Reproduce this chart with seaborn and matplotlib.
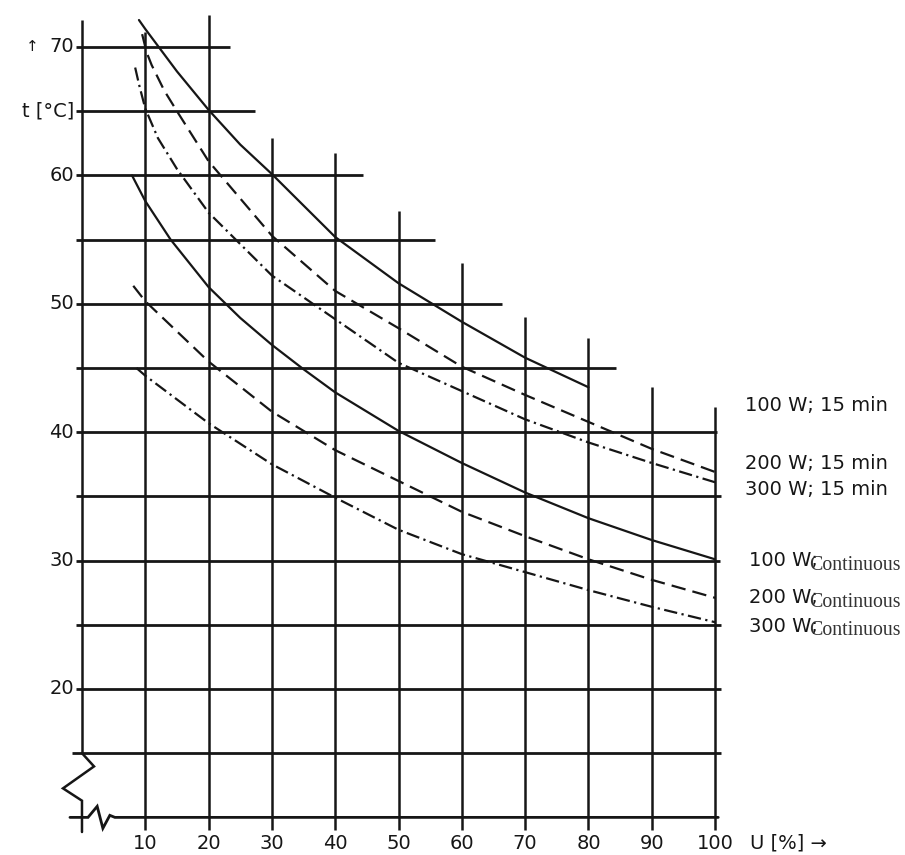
import matplotlib
matplotlib.use("Agg")
import matplotlib.pyplot as plt
import numpy as np
import pandas as pd
import seaborn as sns

# ---------------- data ----------------
u_100w_15 = [9.0, 10, 15, 20, 25, 30, 40, 50, 60, 70, 80]
t_100w_15 = [72.1, 71.4, 68.1, 65.1, 62.4, 60.1, 55.2, 51.6, 48.6, 45.8, 43.5]

u_200w_15 = [9.5, 10.2, 11, 13, 15, 20, 30, 40, 50, 60, 70, 80, 90, 100]
t_200w_15 = [71.0, 69.6, 68.6, 66.6, 65.0, 61.1, 55.3, 51.0, 48.1, 45.1, 42.9, 40.8, 38.7, 36.9]

u_300w_15 = [8.4, 9, 10, 12, 15, 20, 30, 40, 50, 60, 70, 80, 90, 100]
t_300w_15 = [68.4, 67.1, 65.2, 62.9, 60.5, 57.1, 52.2, 48.8, 45.4, 43.2, 41.0, 39.2, 37.6, 36.1]

u_100w_c = [7.9, 10, 14, 20, 25, 30, 35, 40, 50, 60, 70, 80, 90, 100]
t_100w_c = [60.0, 58.0, 55.0, 51.3, 48.9, 46.8, 44.9, 43.1, 40.1, 37.6, 35.3, 33.3, 31.6, 30.1]

u_200w_c = [8.1, 10, 20, 30, 40, 50, 60, 70, 80, 90, 100]
t_200w_c = [51.4, 50.2, 45.5, 41.6, 38.6, 36.2, 33.8, 31.9, 30.1, 28.5, 27.1]

u_300w_c = [8.6, 10, 20, 30, 40, 50, 60, 70, 80, 90, 100]
t_300w_c = [45.0, 44.4, 40.7, 37.5, 34.9, 32.4, 30.5, 29.1, 27.7, 26.4, 25.2]

series_names = ["100 W; 15 min", "200 W; 15 min", "300 W; 15 min",
                "100 W; Continuous", "200 W; Continuous", "300 W; Continuous"]
label_main = ["100 W; 15 min", "200 W; 15 min", "300 W; 15 min", "100 W;", "200 W;", "300 W;"]
label_y = [42.1, 37.6, 35.5, 30.0, 27.1, 24.9]

# grid (staircase) lines
h_levels = [70, 65, 60, 55, 50, 45, 40, 35, 30, 25, 20, 15]
h_start = [-0.95, -0.95, -0.95, -0.95, -0.95, -0.95, -0.95, -0.95, -0.95, -0.95, -0.95, -1.6]
h_end = [23.4, 27.3, 44.4, 55.8, 66.3, 84.4, 100.3, 101.0, 100.8, 101.0, 101.0, 101.0]
v_pos = [0, 10, 20, 30, 40, 50, 60, 70, 80, 90, 100]
v_top = [72.1, 71.2, 72.5, 62.9, 61.75, 57.2, 53.2, 49.0, 47.35, 43.5, 42.0]
v_bottom = [15.0, 9.0, 9.0, 9.0, 9.0, 9.0, 9.0, 9.0, 9.0, 9.0, 9.0]

# axis break decorations
break_left_x = [0.0, 1.9, -3.0, 0.0, 0.0]
break_left_y = [15.0, 13.97, 12.26, 11.3, 8.86]
bottom_line_x = [-1.9, 0.95, 2.4, 3.3, 4.4, 5.2, 100.5]
bottom_line_y = [10.0, 10.0, 10.86, 9.15, 10.16, 10.0, 10.0]

y_ticks = [70, 60, 50, 40, 30, 20]
x_ticks = [10, 20, 30, 40, 50, 60, 70, 80, 90, 100]

# ---------------- plotting ----------------
sns.set_theme(style="white")
plt.rcParams["font.family"] = ["DejaVu Sans"]

fig = plt.figure(figsize=(9.05, 8.55), dpi=100)
fig.patch.set_facecolor("white")
ax = fig.add_axes([0, 0, 1, 1])
ax.set_xlim(-12.95, 130.0)
ax.set_ylim(7.07, 73.66)
ax.set_axis_off()

ink = "#161616"

ax.hlines(h_levels, h_start, h_end, colors=ink, linewidth=2.0)
ax.vlines(v_pos, v_bottom, v_top, colors=ink, linewidth=1.8)
ax.plot(break_left_x, break_left_y, color=ink, linewidth=1.8, solid_joinstyle="miter")
ax.plot(bottom_line_x, bottom_line_y, color=ink, linewidth=2.0, solid_joinstyle="miter")

frames = []
for name, u, t in zip(series_names,
                      [u_100w_15, u_200w_15, u_300w_15, u_100w_c, u_200w_c, u_300w_c],
                      [t_100w_15, t_200w_15, t_300w_15, t_100w_c, t_200w_c, t_300w_c]):
    frames.append(pd.DataFrame({"U": u, "t": t, "series": name}))
df = pd.concat(frames, ignore_index=True)

dash_map = {
    "100 W; 15 min": "",
    "200 W; 15 min": (6.5, 3.2),
    "300 W; 15 min": (6, 2, 1, 2),
    "100 W; Continuous": "",
    "200 W; Continuous": (6.5, 3.2),
    "300 W; Continuous": (6, 2, 1, 2),
}
sns.lineplot(data=df, x="U", y="t", hue="series", style="series",
             palette={s: ink for s in series_names}, dashes=dash_map,
             sort=False, estimator=None, legend=False, linewidth=1.6, ax=ax)

fs = 14
# y tick labels
for v in y_ticks:
    ax.text(-1.3, v, str(v), ha="right", va="center", fontsize=fs, color=ink)
ax.text(-7.9, 70, "↑", ha="center", va="center", fontsize=11, color=ink)
ax.text(-1.3, 65, "t [°C]", ha="right", va="center", fontsize=fs, color=ink)

# x tick labels
for v in x_ticks:
    ax.text(v, 8.0, str(v), ha="center", va="center", fontsize=fs, color=ink)
ax.text(105.5, 8.0, "U [%] →", ha="left", va="center", fontsize=fs, color=ink)

# series labels on the right
for i, (lab, yy) in enumerate(zip(label_main, label_y)):
    if i < 3:
        ax.text(104.7, yy, lab, ha="left", va="center", fontsize=fs, color=ink)
    else:
        ax.text(105.4, yy, lab, ha="left", va="center", fontsize=fs, color=ink)
        ax.text(114.9, yy - 0.35, "Continuous", ha="left", va="center",
                fontsize=14.3, family=["Liberation Serif", "DejaVu Serif"], color="#333333")

fig.savefig("out.png", dpi=100, facecolor="white")
